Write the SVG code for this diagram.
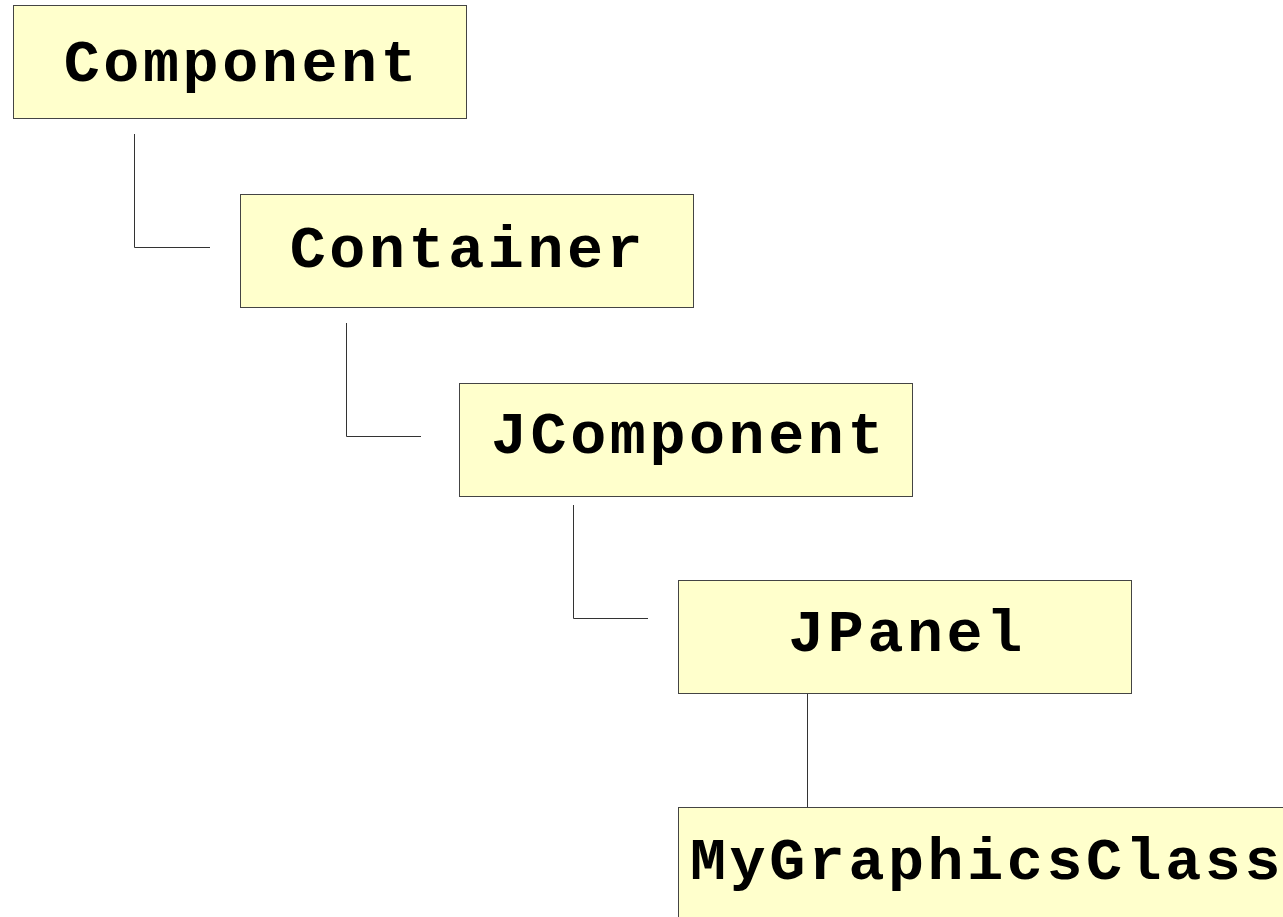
<svg xmlns="http://www.w3.org/2000/svg" width="1283" height="917" viewBox="0 0 1283 917">
  <style>
    .box { fill: #ffffcc; stroke: #444444; stroke-width: 1; }
    .label { font-family: "Liberation Mono", "Courier New", monospace; font-weight: bold; font-size: 60px; letter-spacing: 3.6px; fill: #000000; text-anchor: middle; }
    .link { fill: none; stroke: #333333; stroke-width: 1; }
  </style>
  <rect width="1283" height="917" fill="#ffffff"/>

  <!-- inheritance links -->
  <g id="connectors">
    <path class="link" d="M134.5 134 V247.5 H210"/>
    <path class="link" d="M346.5 323 V436.5 H421"/>
    <path class="link" d="M573.5 505 V618.5 H648"/>
    <path class="link" d="M807.5 693 V807"/>
  </g>

  <g id="component">
    <rect class="box" x="13.5" y="5.5" width="453" height="113"/>
    <text class="label" x="242" y="81">Component</text>
  </g>
  <g id="container">
    <rect class="box" x="240.5" y="194.5" width="453" height="113"/>
    <text class="label" x="468" y="267">Container</text>
  </g>
  <g id="jcomponent">
    <rect class="box" x="459.5" y="383.5" width="453" height="113"/>
    <text class="label" x="689" y="453">JComponent</text>
  </g>
  <g id="jpanel">
    <rect class="box" x="678.5" y="580.5" width="453" height="113"/>
    <text class="label" x="907" y="651">JPanel</text>
  </g>
  <g id="mygraphicsclass">
    <rect class="box" x="678.5" y="807.5" width="620" height="120"/>
    <text class="label" x="987" y="879">MyGraphicsClass</text>
  </g>
</svg>
